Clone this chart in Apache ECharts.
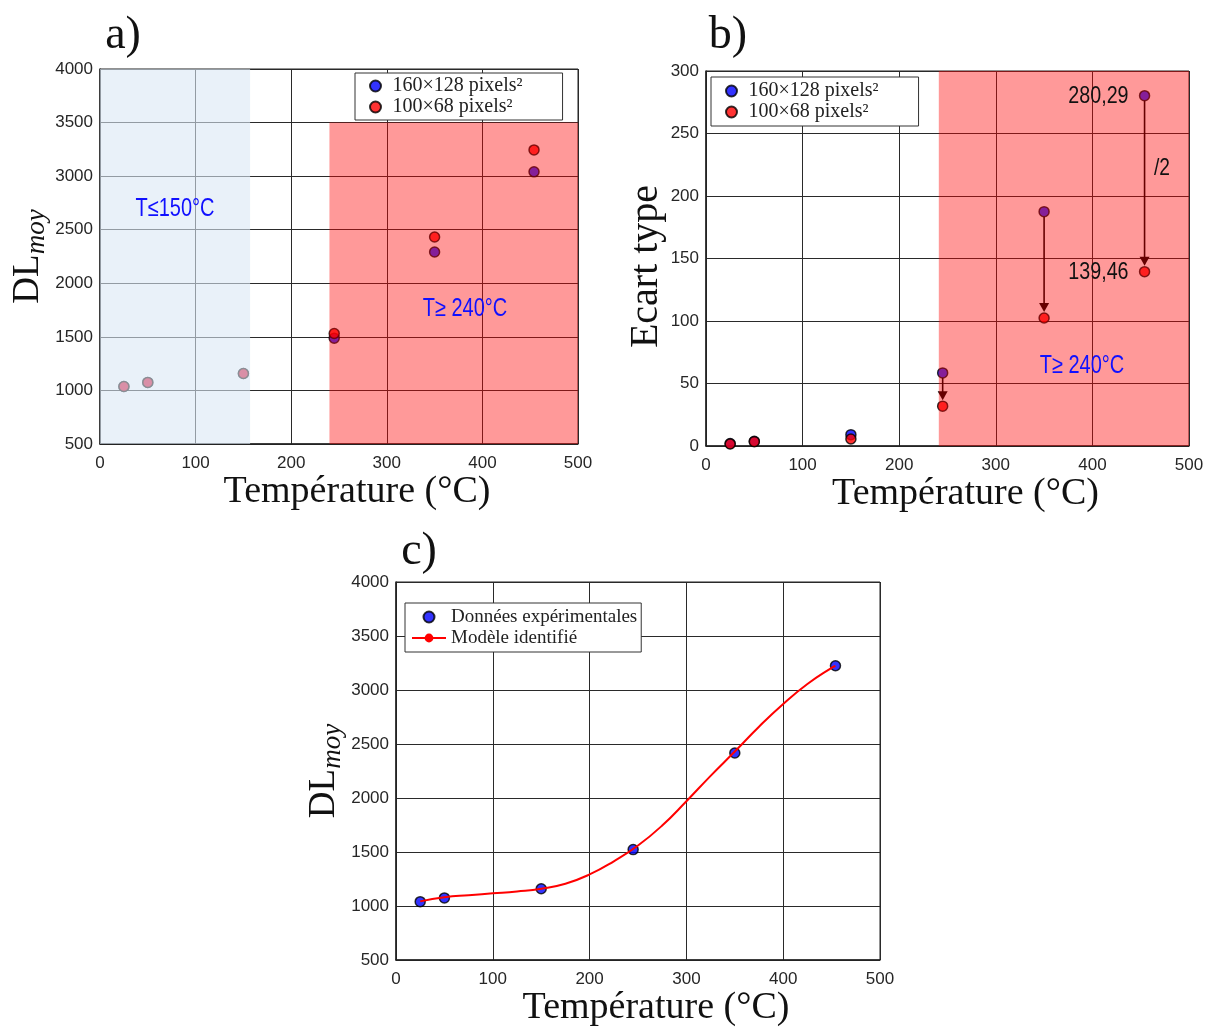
<!DOCTYPE html>
<html><head><meta charset="utf-8">
<script src="https://cdn.jsdelivr.net/npm/echarts@6/dist/echarts.min.js"></script>
<style>html,body{margin:0;padding:0;background:#fff}#c{width:1211px;height:1030px}</style>
</head><body><div id="c"></div><script>
// ---------- data ----------
const temperatures = [25, 50, 150, 245, 350, 454];
const dlMoy160 = [1037, 1075, 1158, 1488, 2292, 3040];
const dlMoy100 = [1037, 1075, 1158, 1531, 2432, 3245];
const ecart160 = [2.0, 3.8, 9.1, 58.5, 187.5, 280.29];
const ecart100 = [1.6, 3.5, 5.6, 31.9, 102.4, 139.46];
const dlMoyExp = [1040, 1075, 1160, 1522, 2417, 3225];
const modelT  = [25, 50, 75, 100, 125, 150, 175, 200, 225, 250, 275, 300, 325, 350, 375, 400, 425, 450, 454];
const modelDL = [1043, 1080, 1100, 1117, 1135, 1160, 1206, 1292, 1414, 1560, 1745, 1970, 2205, 2430, 2660, 2870, 3055, 3205, 3222];
// shaded temperature zones: [T start, T end, y low, y high]
const aColdZone = [0, 157, 500, 4000];
const aHotZone  = [240, 500, 500, 3500];
const bHotZone  = [241, 500, 0, 300];
const name160 = '160×128 pixels²';
const name100 = '100×68 pixels²';
const nameExp = 'Données expérimentales';
const nameModel = 'Modèle identifié';

const SERIF = '"Liberation Serif", "Times New Roman", serif';
const SANS = '"Liberation Sans", Arial, sans-serif';

const pairs = (xs, ys) => xs.map((x, i) => [x, ys[i]]);

function xAx(gi) {
  return {
    type: 'value', gridIndex: gi, min: 0, max: 500, interval: 100,
    name: 'Température (°C)', nameLocation: 'middle', nameGap: 28,
    nameTextStyle: { fontFamily: SERIF, fontSize: 38, color: '#111', padding: [0, 0, 0, 36] },
    axisLine: { show: true, onZero: false, lineStyle: { color: '#222', width: 1.5 } },
    axisTick: { show: false },
    axisLabel: { fontFamily: SANS, fontSize: 17, color: '#262626', margin: 11, formatter: v => String(v) },
    splitLine: { show: true, lineStyle: { color: '#2a2a2a', width: 1 } }
  };
}
function yAx(gi, min, max, interval, name, gap, size, pad, rich) {
  return {
    type: 'value', gridIndex: gi, min: min, max: max, interval: interval,
    name: name, nameLocation: 'middle', nameGap: gap,
    nameTextStyle: { fontFamily: SERIF, fontSize: size, color: '#111', padding: pad, rich: rich },
    axisLine: { show: true, onZero: false, lineStyle: { color: '#222', width: 1.5 } },
    axisTick: { show: false },
    axisLabel: { fontFamily: SANS, fontSize: 17, color: '#262626', margin: 7, formatter: v => String(v) },
    splitLine: { show: true, lineStyle: { color: '#2a2a2a', width: 1 } }
  };
}
const subRich = { sub: { fontFamily: SERIF, fontSize: 27, fontStyle: 'italic', color: '#111', padding: [16, 0, 0, 0] } };

function zoneItem(params, api) {
  const p0 = api.coord([api.value(0), api.value(3)]);
  const p1 = api.coord([api.value(1), api.value(2)]);
  return { type: 'rect', shape: { x: p0[0], y: p0[1], width: p1[0] - p0[0], height: p1[1] - p0[1] },
           style: { fill: api.visual('color') } };
}
function arrowItem(params, api) {
  const top = api.coord([api.value(0), api.value(1)]);
  const bot = api.coord([api.value(0), api.value(2)]);
  const x = top[0], y0 = top[1] + 5, tip = bot[1] - 6, hh = 9, hw = 5;
  return { type: 'group', children: [
    { type: 'line', shape: { x1: x, y1: y0, x2: x, y2: tip - hh + 1 }, style: { stroke: '#000', lineWidth: 1.6 } },
    { type: 'polygon', shape: { points: [[x - hw, tip - hh], [x + hw, tip - hh], [x, tip]] }, style: { fill: '#000' } }
  ] };
}
function valueLabelItem(params, api) {
  const p = api.coord([api.value(0), api.value(1)]);
  return { type: 'text', x: p[0] - 16, y: p[1] + 1, scaleX: 0.82,
    style: { text: String(api.value(1)).replace('.', ','), fontFamily: SANS, fontSize: 24, fill: '#111',
             align: 'right', verticalAlign: 'middle' } };
}

const dot = (color) => ({ color: color, borderColor: '#000', borderWidth: 1.5 });
const legendBase = {
  orient: 'vertical', backgroundColor: '#fff', borderColor: '#333', borderWidth: 1,
  itemWidth: 24, itemHeight: 11, itemGap: 1,
  textStyle: { fontFamily: SERIF, fontSize: 20, color: '#222', lineHeight: 20 }
};
const narrowText = (text, x, y, color, size) => ({
  type: 'text', x: x, y: y, z: 100, scaleX: 0.8,
  style: { text: text, fontFamily: SANS, fontSize: size, fill: color, align: 'center', verticalAlign: 'middle' }
});
const titleText = (text, x, y) => ({
  type: 'text', x: x, y: y, z: 100,
  style: { text: text, fontFamily: SERIF, fontSize: 46, fill: '#111', align: 'center', verticalAlign: 'middle' }
});

const option = {
  animation: false,
  grid: [
    { left: 100, top: 69, width: 478, height: 375, show: true, borderColor: '#222', borderWidth: 1 },
    { left: 706, top: 71, width: 483, height: 375, show: true, borderColor: '#222', borderWidth: 1 },
    { left: 396, top: 582, width: 484, height: 378, show: true, borderColor: '#222', borderWidth: 1 }
  ],
  xAxis: [xAx(0), xAx(1), xAx(2)],
  yAxis: [
    yAx(0, 500, 4000, 500, 'DL{sub|moy}', 50, 37, 0, subRich),
    yAx(1, 0, 300, 50, 'Ecart type', 40, 40, [0, 16, 0, 0], {}),
    yAx(2, 500, 4000, 500, 'DL{sub|moy}', 50, 37, 0, subRich)
  ],
  legend: [
    Object.assign({}, legendBase, { left: 355, top: 73, padding: [3, 40, 3, 14], data: [name160, name100] }),
    Object.assign({}, legendBase, { left: 711, top: 77, padding: [4, 40, 4, 14], data: [name160, name100] }),
    Object.assign({}, legendBase, { left: 405, top: 603, padding: [4, 4, 4, 6], itemWidth: 34,
      textStyle: { fontFamily: SERIF, fontSize: 19, color: '#222', lineHeight: 20 },
      data: [{ name: nameExp, icon: 'circle' }, { name: nameModel }] })
  ],
  series: [
    // panel a
    { type: 'scatter', name: name160, xAxisIndex: 0, yAxisIndex: 0, symbolSize: 10, itemStyle: dot('#0000ff'), data: pairs(temperatures, dlMoy160) },
    { type: 'scatter', name: name100, xAxisIndex: 0, yAxisIndex: 0, symbolSize: 10, itemStyle: dot('#ff0000'), data: pairs(temperatures, dlMoy100) },
    { type: 'custom', xAxisIndex: 0, yAxisIndex: 0, z: 10, silent: true, renderItem: zoneItem,
      itemStyle: { color: 'rgba(218,232,245,0.6)' }, encode: { x: [0, 1], y: [2, 3] }, data: [aColdZone] },
    { type: 'custom', xAxisIndex: 0, yAxisIndex: 0, z: 10, silent: true, renderItem: zoneItem,
      itemStyle: { color: 'rgba(255,0,0,0.4)' }, encode: { x: [0, 1], y: [2, 3] }, data: [aHotZone] },
    // panel b
    { type: 'scatter', name: name160, xAxisIndex: 1, yAxisIndex: 1, symbolSize: 10, itemStyle: dot('#0000ff'), data: pairs(temperatures, ecart160) },
    { type: 'scatter', name: name100, xAxisIndex: 1, yAxisIndex: 1, symbolSize: 10, itemStyle: dot('#ff0000'), data: pairs(temperatures, ecart100) },
    { type: 'custom', xAxisIndex: 1, yAxisIndex: 1, z: 3, silent: true, renderItem: arrowItem,
      encode: { x: 0, y: [1, 2] },
      data: temperatures.slice(3).map((t, i) => [t, ecart160[i + 3], ecart100[i + 3]]) },
    { type: 'custom', xAxisIndex: 1, yAxisIndex: 1, z: 10, silent: true, renderItem: zoneItem,
      itemStyle: { color: 'rgba(255,0,0,0.4)' }, encode: { x: [0, 1], y: [2, 3] }, data: [bHotZone] },
    { type: 'custom', xAxisIndex: 1, yAxisIndex: 1, z: 20, silent: true, renderItem: valueLabelItem, clip: false,
      encode: { x: 0, y: 1 },
      data: [[temperatures[5], ecart160[5]], [temperatures[5], ecart100[5]]] },
    // panel c
    { type: 'scatter', name: nameExp, xAxisIndex: 2, yAxisIndex: 2, symbolSize: 10, itemStyle: dot('#0000ff'), data: pairs(temperatures, dlMoyExp) },
    { type: 'line', name: nameModel, xAxisIndex: 2, yAxisIndex: 2, z: 3, smooth: 0.5, symbol: 'none',
      lineStyle: { color: '#ff0000', width: 2 }, itemStyle: { color: '#ff0000' }, data: pairs(modelT, modelDL) }
  ],
  graphic: [
    titleText('a)', 123, 36),
    titleText('b)', 728, 36),
    titleText('c)', 419, 552),
    narrowText('T≤150°C', 175, 209, '#1010ff', 25),
    narrowText('T≥ 240°C', 465, 309, '#1010ff', 25),
    narrowText('T≥ 240°C', 1082, 366, '#1010ff', 25),
    narrowText('/2', 1162, 168, '#111', 24)
  ]
};
const chart = echarts.init(document.getElementById('c'), null, { renderer: 'canvas' });
chart.setOption(option);
</script></body></html>
